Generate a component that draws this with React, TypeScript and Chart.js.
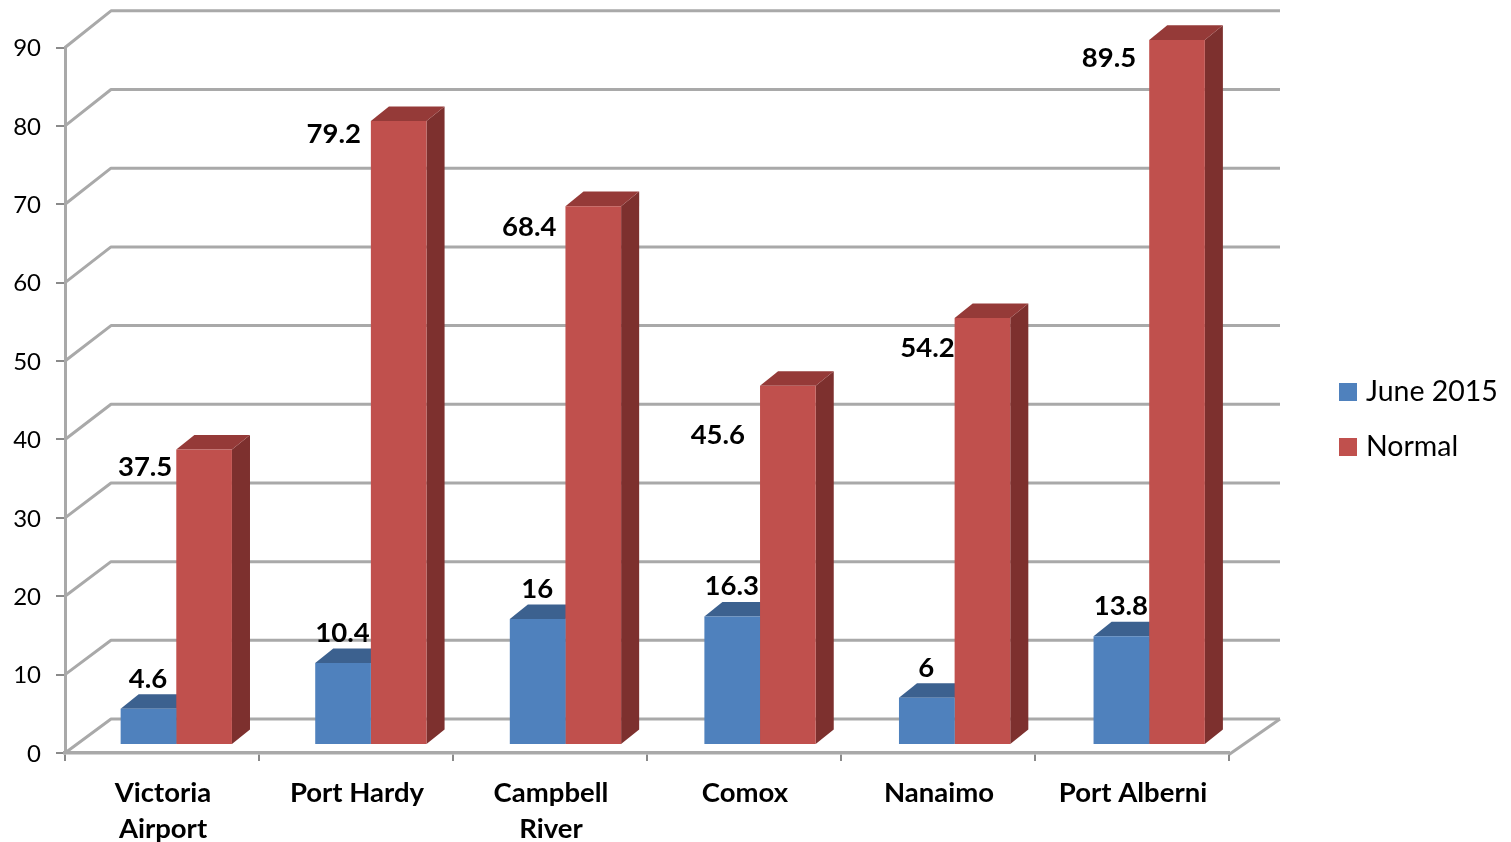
import React, { useEffect, useRef } from "react";
import { Chart, registerables } from "chart.js";

Chart.register(...registerables);

const categories = [["Victoria", "Airport"], "Port Hardy", ["Campbell", "River"], "Comox", "Nanaimo", "Port Alberni"];
const june2015 = [4.6, 10.4, 16, 16.3, 6, 13.8];
const normal = [37.5, 79.2, 68.4, 45.6, 54.2, 89.5];
const yTicks = [0, 10, 20, 30, 40, 50, 60, 70, 80, 90];
// hand-placed data labels of the "Normal" series, relative to the bar's top centre
const normalLabelNudgeX = [-59, -65, -64, -70, -55, -68];
const normalLabelNudgeY = [18, 13, 21, 49, 30, 18];

const FONT = "Lato";
const GRID = "#a9a9a9";
const FACE = ["#4f81bd", "#c0504d"];
const TOP = ["#3c618f", "#953a38"];
const SIDE = ["#305074", "#7d302e"];
const DEPTH_X = 18;
const DEPTH_Y = 14.5;
const WALL_DX = 46;

// the bars stand on a plane a little behind the front of the floor
function barPlane(chart: any) {
  const { left, bottom } = chart.chartArea;
  return {
    a: 1.003,
    d: 1.005,
    e: left - left * 1.003 + 14,
    f: bottom - bottom * 1.005 - 8,
  };
}

const threeD = {
  id: "threeD",
  beforeDraw(chart: any) {
    const { ctx } = chart;
    const { left, right, bottom } = chart.chartArea;
    const y = chart.scales.y;
    ctx.save();
    ctx.strokeStyle = GRID;
    ctx.lineWidth = 3;
    ctx.lineJoin = "round";
    for (const v of yTicks) {
      const py = y.getPixelForValue(v);
      const by = py - 34 - (bottom - py) * 0.0038;
      ctx.beginPath();
      ctx.moveTo(left, py);
      ctx.lineTo(left + WALL_DX, by);
      ctx.lineTo(right + 51, by);
      ctx.stroke();
    }
    // floor: right edge
    ctx.beginPath();
    ctx.moveTo(right, bottom + 1.5);
    ctx.lineTo(right + 51, bottom - 34);
    ctx.stroke();
    ctx.restore();
  },
  beforeDatasetsDraw(chart: any) {
    const { ctx } = chart;
    const m = barPlane(chart);
    ctx.save();
    ctx.transform(m.a, 0, 0, m.d, m.e, m.f);
    [0, 1].forEach((ds) => {
      chart.getDatasetMeta(ds).data.forEach((bar: any) => {
        const l = bar.x - bar.width / 2;
        const r = bar.x + bar.width / 2;
        const t = bar.y;
        const b = bar.base;
        ctx.fillStyle = SIDE[ds];
        ctx.beginPath();
        ctx.moveTo(r, t);
        ctx.lineTo(r + DEPTH_X, t - DEPTH_Y);
        ctx.lineTo(r + DEPTH_X, b - DEPTH_Y);
        ctx.lineTo(r, b);
        ctx.closePath();
        ctx.fill();
        ctx.fillStyle = TOP[ds];
        ctx.beginPath();
        ctx.moveTo(l, t);
        ctx.lineTo(l + DEPTH_X, t - DEPTH_Y);
        ctx.lineTo(r + DEPTH_X, t - DEPTH_Y);
        ctx.lineTo(r, t);
        ctx.closePath();
        ctx.fill();
      });
    });
    // the library's own front faces are drawn inside this transform
  },
  afterDatasetsDraw(chart: any) {
    const { ctx } = chart;
    ctx.restore();
    const m = barPlane(chart);
    ctx.save();
    ctx.fillStyle = "#000";
    ctx.font = `bold 27.5px ${FONT}`;
    ctx.textAlign = "center";
    ctx.textBaseline = "middle";
    chart.getDatasetMeta(0).data.forEach((bar: any, i: number) => {
      const x = bar.x * m.a + m.e;
      const y = bar.y * m.d + m.f;
      ctx.fillText(String(june2015[i]), x - 0.5, y - 30);
    });
    chart.getDatasetMeta(1).data.forEach((bar: any, i: number) => {
      const x = bar.x * m.a + m.e;
      const y = bar.y * m.d + m.f;
      ctx.fillText(String(normal[i]), x + normalLabelNudgeX[i], y + normalLabelNudgeY[i]);
    });
    // legend
    ctx.font = `28.5px ${FONT}`;
    ctx.textAlign = "left";
    chart.data.datasets.forEach((d: any, i: number) => {
      const cy = 392 + i * 55;
      ctx.fillStyle = FACE[i];
      ctx.fillRect(1339, cy - 9, 18, 18);
      ctx.fillStyle = "#000";
      ctx.fillText(d.label, 1366, cy);
    });
    ctx.restore();
  },
};

export default function App() {
  const ref = useRef<HTMLCanvasElement>(null);
  useEffect(() => {
    const chart = new Chart(ref.current!, {
      type: "bar",
      data: {
        labels: categories as any,
        datasets: [
          { label: "June 2015", data: june2015, backgroundColor: FACE[0] },
          { label: "Normal", data: normal, backgroundColor: FACE[1] },
        ],
      },
      options: {
        responsive: false,
        animation: false,
        devicePixelRatio: 1,
        layout: { padding: { top: 47.5, right: 282, left: 0, bottom: 0 } },
        categoryPercentage: 0.572,
        barPercentage: 1,
        plugins: { legend: { display: false }, tooltip: { enabled: false } },
        scales: {
          x: {
            afterFit: (s: any) => { s.height = 89; },
            grid: { drawOnChartArea: false, drawTicks: true, tickLength: 8, color: "#8a8a8a", lineWidth: 2 },
            border: { display: true, color: GRID, width: 3.5 },
            ticks: {
              color: "#000",
              font: { family: FONT, size: 27.5, weight: "bold", lineHeight: 1.31 },
              padding: 14,
              labelOffset: 1,
              maxRotation: 0,
              autoSkip: false,
            },
          },
          y: {
            min: 0,
            max: 90,
            afterFit: (s: any) => { s.width = 65; },
            afterBuildTicks: (s: any) => { s.ticks = yTicks.map((value) => ({ value })); },
            grid: { drawOnChartArea: false, drawTicks: true, tickLength: 9, color: "#8a8a8a", lineWidth: 2 },
            border: { display: true, color: GRID, width: 3 },
            ticks: { color: "#000", font: { family: FONT, size: 24 }, padding: 15, labelOffset: 1 } as any,
          },
        },
      } as any,
      plugins: [threeD],
    });
    return () => chart.destroy();
  }, []);
  return (
    <div style={{ position: "absolute", left: 0, top: 0, width: 1511, height: 842, background: "#fff" }}>
      <canvas ref={ref} width={1511} height={842} style={{ display: "block", width: 1511, height: 842 }} />
    </div>
  );
}
